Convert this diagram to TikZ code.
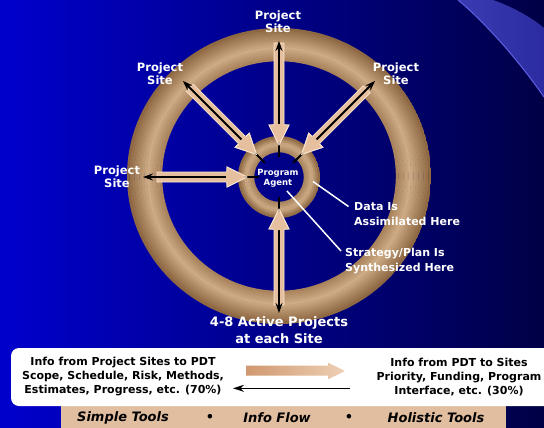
\documentclass[tikz,border=0pt]{standalone}
\usepackage{fontspec}
\setsansfont{DejaVu Sans}
\usetikzlibrary{arrows.meta}
\definecolor{bgL}{RGB}{0,0,205}
\definecolor{bgR}{RGB}{0,0,70}
\definecolor{bandL}{RGB}{58,58,178}
\definecolor{bandR}{RGB}{44,44,160}
\definecolor{bandEdge}{RGB}{95,95,230}
\definecolor{ringIn}{RGB}{165,127,88}
\definecolor{ringMid}{RGB}{206,172,134}
\definecolor{ringOut}{RGB}{138,100,62}
\definecolor{tanFill}{RGB}{230,192,158}
\definecolor{tanEdge}{RGB}{248,228,208}
\definecolor{barTan}{RGB}{225,190,160}
\definecolor{arrL}{RGB}{208,152,112}
\definecolor{arrR}{RGB}{238,208,180}
\tikzset{
  sitelabel/.style={text=white, font=\sffamily\bfseries\fontsize{11.5}{13}\selectfont, align=center, inner sep=0pt},
  notelabel/.style={text=white, font=\sffamily\bfseries\fontsize{11}{15}\selectfont, align=left, anchor=west, inner sep=0pt},
  boxtext/.style={text=black, font=\sffamily\bfseries\fontsize{11}{14}\selectfont, align=center, inner sep=0pt},
  bartext/.style={text=black, font=\sffamily\bfseries\itshape\fontsize{13}{15}\selectfont, inner sep=0pt},
  tanarrow/.style={fill=tanFill, draw=tanEdge, line width=0.8pt},
  blackarrow/.style={draw=black, line width=1.8pt, -{Stealth[length=10pt,width=7pt]}},
  pointer/.style={draw=white, line width=1.5pt}
}
\begin{document}
\begin{tikzpicture}[x=1pt,y=-1pt]
\useasboundingbox (0,0) rectangle (544,428);
% background
\shade[left color=bgL,right color=bgR] (0,0) rectangle (544,428);
\shade[left color=bandL,right color=bandR] (458,0) .. controls (480,18) and (515,55) .. (544,97) -- (544,28) .. controls (530,16) and (510,6) .. (493,0) -- cycle;
\draw[bandEdge, line width=1pt] (458,0) .. controls (480,18) and (515,55) .. (544,97);
% outer ring (radial gradient built from strokes)
\coordinate (H) at (279,177);
\begin{scope}
  \clip (279,176) ellipse [x radius=152, y radius=148];
  \foreach \i in {0,...,13} {
    \pgfmathsetmacro{\tt}{(\i+0.5)/14}
    \pgfmathsetmacro{\rx}{117+35*\tt}
    \pgfmathsetmacro{\ry}{115+33*\tt}
    \pgfmathsetmacro{\p}{\tt<0.4 ? 100*\tt/0.4 : 100*(1-(\tt-0.4)/0.6)}
    \pgfmathsetmacro{\q}{\tt<0.4 ? 1 : 0}
    \ifdim\q pt>0.5pt \colorlet{rc}{ringMid!\p!ringIn}\else\colorlet{rc}{ringMid!\p!ringOut}\fi
    \draw[rc, line width=2.9pt] (279,176) ellipse [x radius=\rx, y radius=\ry];
  }
\end{scope}
% inner ring
\begin{scope}
  \clip (H) circle [radius=41];
  \foreach \i in {0,...,7} {
    \pgfmathsetmacro{\tt}{(\i+0.5)/8}
    \pgfmathsetmacro{\rr}{25+16*\tt}
    \pgfmathsetmacro{\p}{\tt<0.5 ? 100*\tt/0.5 : 100*(1-(\tt-0.5)/0.5)}
    \pgfmathsetmacro{\q}{\tt<0.5 ? 1 : 0}
    \ifdim\q pt>0.5pt \colorlet{rc}{ringMid!\p!ringIn}\else\colorlet{rc}{ringMid!\p!ringOut}\fi
    \draw[rc, line width=2.4pt] (H) circle [radius=\rr];
  }
\end{scope}
% spokes
\foreach \a/\t in {90/134, 135/126, 45/124, 180/122, 270/128} {
  \begin{scope}[shift={(H)}, rotate=\a]
    \path[tanarrow] (\t,-5) -- (52,-5) -- (52,-10) -- (32,0) -- (52,10) -- (52,5) -- (\t,5) -- cycle;
    \coordinate (in) at (20,0);
    \coordinate (out) at (136,0);
    \draw[blackarrow] (in) -- (out);
    \path[fill=tanFill] (53,-4.2) -- (52,-9.2) -- (33,0) -- (52,9.2) -- (53,4.2) -- cycle;
    \draw[tanEdge, line width=0.8pt] (52,-5) -- (52,-10) -- (32,0) -- (52,10) -- (52,5);
  \end{scope}
}
% hub label
\node[sitelabel, font=\sffamily\bfseries\fontsize{8.5}{10}\selectfont] (hub) at (278,178.5) {Program\\Agent};
% site labels
\node[sitelabel] (s1) at (278,21.5) {Project\\Site};
\node[sitelabel] (s2) at (160,73.5) {Project\\Site};
\node[sitelabel] (s3) at (396,74) {Project\\Site};
\node[sitelabel] (s4) at (117,177) {Project\\Site};
\node[sitelabel, font=\sffamily\bfseries\fontsize{13}{16.5}\selectfont] (s5) at (279,330) {4-8 Active Projects\\at each Site};
% notes
\node[notelabel] (data) at (354,214.5) {Data Is\\Assimilated Here};
\node[notelabel] (strat) at (345,261) {Strategy/Plan Is\\Synthesized Here};
\coordinate (d0) at (313,181.5);
\coordinate (d1) at (348.5,206.5);
\coordinate (p0) at (287,191);
\coordinate (p1) at (341,251);
\draw[pointer] (d0) -- (d1);
\draw[pointer] (p0) -- (p1);
% legend box
\fill[barTan] (61,400) rectangle (506,440);
\fill[white, rounded corners=8pt] (11,348) rectangle (570,406);
\node[boxtext] (lt) at (123,377) {Info from Project Sites to PDT\\Scope, Schedule, Risk, Methods,\\Estimates, Progress, etc. (70\%)};
\node[boxtext] (rt) at (459,377) {Info from PDT to Sites\\Priority, Funding, Program\\Interface, etc. (30\%)};
\shade[left color=arrL, right color=arrR] (246,365.7) -- (328,365.7) -- (328,362.7) -- (345,371) -- (328,379.3) -- (328,375.7) -- (246,375.7) -- cycle;
\coordinate (ba0) at (350,388.3);
\coordinate (ba1) at (233,388.3);
\draw[draw=black, line width=1.5pt, -{Stealth[length=11pt,width=7pt]}] (ba0) -- (ba1);
% bar text
\node[bartext] (b1) at (123,417.5) {Simple Tools};
\node[bartext] (b2) at (210,417.5) {•};
\node[bartext] (b3) at (277,417.5) {Info Flow};
\node[bartext] (b4) at (349,417.5) {•};
\node[bartext] (b5) at (436,417.5) {Holistic Tools};
\end{tikzpicture}
\end{document}
